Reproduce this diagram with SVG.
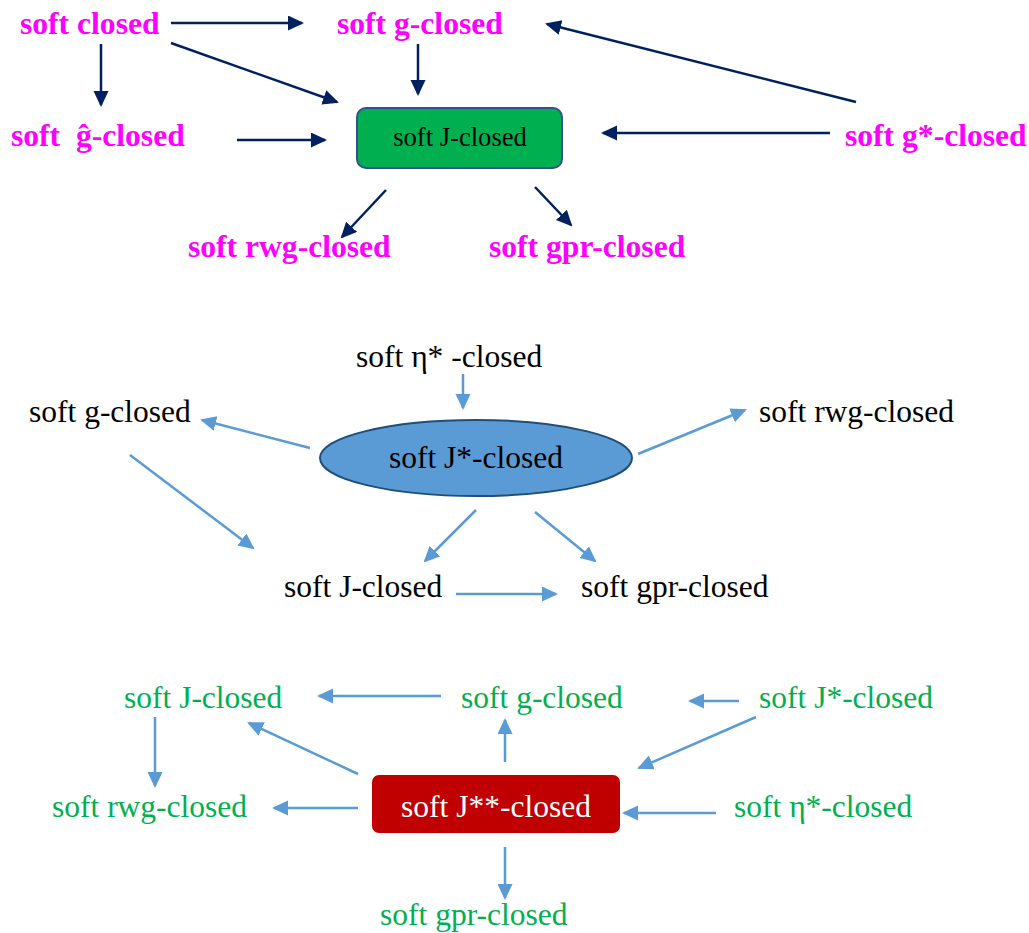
<svg xmlns="http://www.w3.org/2000/svg" width="1029" height="933" viewBox="0 0 1029 933">
  <style>
    text { font-family: "Liberation Serif", "Times New Roman", serif; }
    .t1 { font-size: 31.6px; font-weight: bold; fill: #ff00ff; }
    .t2 { font-size: 31.5px; fill: #000000; }
    .t3 { font-size: 31.5px; fill: #00b050; }
    .navy { stroke: #002060; stroke-width: 2.5; fill: none; marker-end: url(#ahNavy); }
    .blue { stroke: #5b9bd5; stroke-width: 2.5; fill: none; marker-end: url(#ahBlue); }
  </style>
  <defs>
    <marker id="ahNavy" markerUnits="userSpaceOnUse" markerWidth="16" markerHeight="16" refX="14" refY="7.5" orient="auto">
      <path d="M0,0 L16,7.5 L0,15 z" fill="#002060"/>
    </marker>
    <marker id="ahBlue" markerUnits="userSpaceOnUse" markerWidth="16" markerHeight="16" refX="14" refY="7.5" orient="auto">
      <path d="M0,0 L16,7.5 L0,15 z" fill="#5b9bd5"/>
    </marker>
  </defs>
  <rect width="1029" height="933" fill="#ffffff"/>

  <!-- connectors -->
  <g id="connectors">
    <!-- upper diagram -->
    <line class="navy" x1="171" y1="23" x2="302" y2="23"/>
    <line class="navy" x1="101" y1="44" x2="101" y2="105"/>
    <line class="navy" x1="171" y1="43" x2="337" y2="102"/>
    <line class="navy" x1="418" y1="44" x2="418" y2="94"/>
    <line class="navy" x1="237" y1="140" x2="325" y2="140"/>
    <line class="navy" x1="386" y1="190" x2="342" y2="237"/>
    <line class="navy" x1="535" y1="187" x2="571" y2="225"/>
    <line class="navy" x1="830" y1="133" x2="603" y2="133"/>
    <line class="navy" x1="856" y1="102" x2="547" y2="24"/>
    <!-- middle diagram -->
    <line class="blue" x1="463" y1="374" x2="463" y2="408"/>
    <line class="blue" x1="310" y1="448" x2="202" y2="420"/>
    <line class="blue" x1="638" y1="454" x2="745" y2="410"/>
    <line class="blue" x1="130" y1="455" x2="253" y2="548"/>
    <line class="blue" x1="476" y1="510" x2="425" y2="561"/>
    <line class="blue" x1="535" y1="512" x2="595" y2="561"/>
    <line class="blue" x1="456" y1="594" x2="556" y2="594"/>
    <!-- lower diagram -->
    <line class="blue" x1="441" y1="696" x2="319" y2="696"/>
    <line class="blue" x1="739" y1="701" x2="690" y2="701"/>
    <line class="blue" x1="155" y1="717" x2="155" y2="786"/>
    <line class="blue" x1="358" y1="774" x2="249" y2="723"/>
    <line class="blue" x1="505" y1="762" x2="505" y2="720"/>
    <line class="blue" x1="756" y1="717" x2="639" y2="768"/>
    <line class="blue" x1="358" y1="808" x2="274" y2="808"/>
    <line class="blue" x1="716" y1="813" x2="624" y2="813"/>
    <line class="blue" x1="505" y1="847" x2="505" y2="898"/>
  </g>

  <!-- upper diagram nodes -->
  <g id="u-soft-closed"><text class="t1" x="20" y="34">soft closed</text></g>
  <g id="u-soft-g-closed"><text class="t1" x="337" y="34">soft g-closed</text></g>
  <g id="u-soft-ghat-closed"><text class="t1" x="11" y="146" xml:space="preserve">soft  ĝ-closed</text></g>
  <g id="u-soft-gstar-closed"><text class="t1" x="845" y="146">soft g*-closed</text></g>
  <g id="u-soft-rwg-closed"><text class="t1" x="188" y="257">soft rwg-closed</text></g>
  <g id="u-soft-gpr-closed"><text class="t1" x="489" y="257">soft gpr-closed</text></g>
  <g id="u-soft-J-closed">
    <rect x="357" y="108" width="205" height="60" rx="9" fill="#00b050" stroke="#2f528f" stroke-width="2"/>
    <text x="460" y="146" text-anchor="middle" font-size="26.6" fill="#000000">soft J-closed</text>
  </g>

  <!-- middle diagram nodes -->
  <g id="m-soft-eta-closed"><text class="t2" x="356" y="367">soft η* -closed</text></g>
  <g id="m-soft-g-closed"><text class="t2" x="29" y="422">soft g-closed</text></g>
  <g id="m-soft-rwg-closed"><text class="t2" x="759" y="422">soft rwg-closed</text></g>
  <g id="m-soft-Jstar-closed">
    <ellipse cx="476" cy="458" rx="156" ry="38" fill="#5b9bd5" stroke="#1f4e79" stroke-width="2"/>
    <text class="t2" x="476" y="468" text-anchor="middle">soft J*-closed</text>
  </g>
  <g id="m-soft-J-closed"><text class="t2" x="284" y="597">soft J-closed</text></g>
  <g id="m-soft-gpr-closed"><text class="t2" x="581" y="597">soft gpr-closed</text></g>

  <!-- lower diagram nodes -->
  <g id="l-soft-J-closed"><text class="t3" x="124" y="708">soft J-closed</text></g>
  <g id="l-soft-g-closed"><text class="t3" x="461" y="708">soft g-closed</text></g>
  <g id="l-soft-Jstar-closed"><text class="t3" x="759" y="708">soft J*-closed</text></g>
  <g id="l-soft-rwg-closed"><text class="t3" x="52" y="817">soft rwg-closed</text></g>
  <g id="l-soft-eta-closed"><text class="t3" x="734" y="817">soft η*-closed</text></g>
  <g id="l-soft-gpr-closed"><text class="t3" x="380" y="925">soft gpr-closed</text></g>
  <g id="l-soft-J2star-closed">
    <rect x="372" y="775" width="248" height="58" rx="7" fill="#c00000"/>
    <text x="496" y="817" text-anchor="middle" font-size="31.5" fill="#ffffff">soft J**-closed</text>
  </g>
</svg>
